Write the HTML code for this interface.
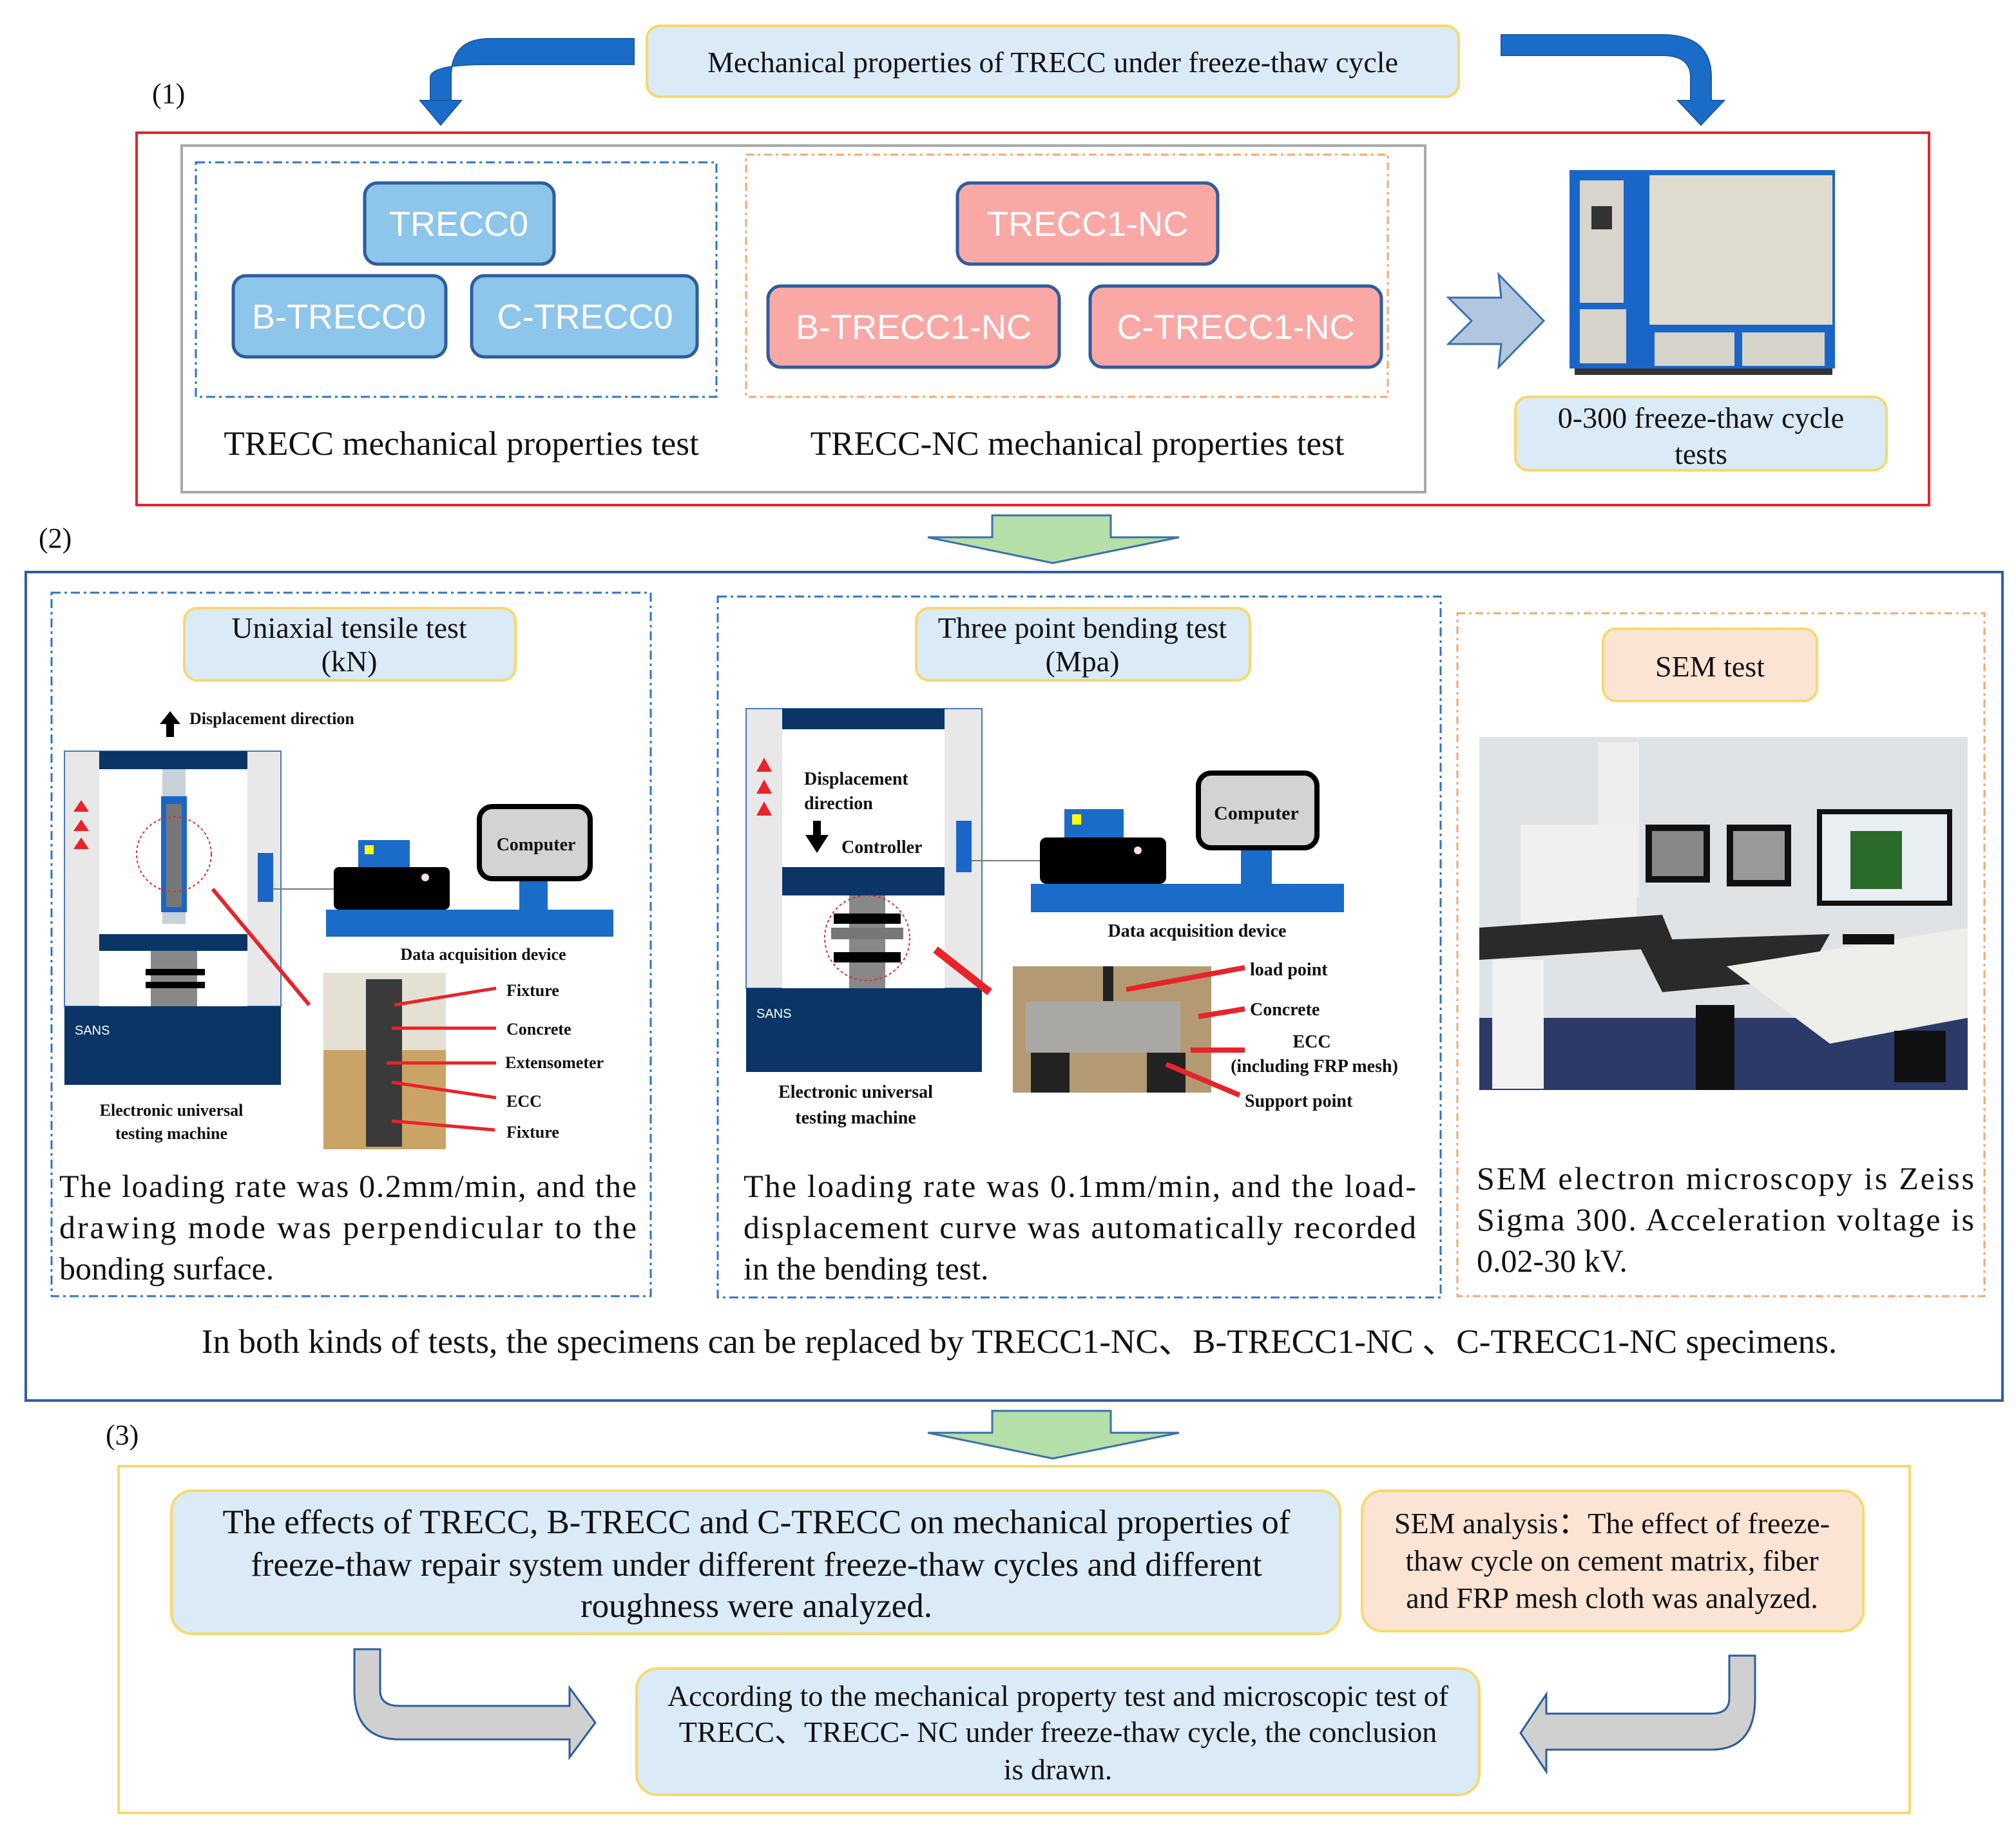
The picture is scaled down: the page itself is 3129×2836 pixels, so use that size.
<!DOCTYPE html>
<html><head><meta charset="utf-8"><style>
html,body{margin:0;padding:0;background:#fff}
svg{display:block}
text{font-family:"Liberation Serif",serif;fill:#111}
.s{font-family:"Liberation Sans",sans-serif}
.b{font-weight:bold}
</style></head><body>
<svg width="3129" height="2836" viewBox="0 0 1564.5 1418" xmlns="http://www.w3.org/2000/svg">
<rect width="1564.5" height="1418" fill="#fff"/>
<rect x="502" y="20" width="630" height="55" rx="10" fill="#dbeaf7" stroke="#f7d96a" stroke-width="2"/>
<text x="817" y="56" font-size="23" text-anchor="middle">Mechanical  properties  of TRECC under freeze-thaw  cycle</text>
<path d="M492,30 L380,30 Q350,30 350,60 L350,78 L326,78 L342,97 L358,78 L334,78 L334,60 Q334,50 380,50 L492,50 Z" fill="#1a6cc8" stroke="#1a5aa8" stroke-width="1"/>
<path d="M1165,27 L1290,27 Q1328,27 1328,60 L1328,78 L1338,78 L1320,97 L1302,78 L1312,78 L1312,60 Q1312,43 1290,43 L1165,43 Z" fill="#1a6cc8" stroke="#1a5aa8" stroke-width="1"/>
<text x="118" y="80" font-size="22">(1)</text>
<rect x="106" y="103" width="1391" height="289" fill="none" stroke="#e8232a" stroke-width="2"/>
<rect x="141" y="113" width="965" height="269" fill="none" stroke="#a8a8a8" stroke-width="2"/>
<rect x="152" y="126" width="404" height="182" fill="none" stroke="#2f73c8" stroke-width="1.5" stroke-dasharray="7,3,2,3"/>
<rect x="579" y="120" width="498" height="188" fill="none" stroke="#f4a66e" stroke-width="1.5" stroke-dasharray="6,3,2,3"/>
<g stroke="#2e5c9e" stroke-width="2.5">
<rect x="283" y="142" width="147" height="63" rx="10" fill="#8ec5ea"/>
<rect x="181" y="214" width="165" height="63" rx="10" fill="#8ec5ea"/>
<rect x="366" y="214" width="175" height="63" rx="10" fill="#8ec5ea"/>
<rect x="743" y="142" width="202" height="63" rx="10" fill="#f9a8a6"/>
<rect x="596" y="222" width="226" height="63" rx="10" fill="#f9a8a6"/>
<rect x="846" y="222" width="226" height="63" rx="10" fill="#f9a8a6"/>
</g>
<g font-size="27" text-anchor="middle">
<text x="356" y="183" class="s" style="fill:#fff">TRECC0</text>
<text x="263" y="255" class="s" style="fill:#fff">B-TRECC0</text>
<text x="454" y="255" class="s" style="fill:#fff">C-TRECC0</text>
<text x="844" y="183" class="s" style="fill:#fff">TRECC1-NC</text>
<text x="709" y="263" class="s" style="fill:#fff">B-TRECC1-NC</text>
<text x="959" y="263" class="s" style="fill:#fff">C-TRECC1-NC</text>
</g>
<text x="358" y="353" font-size="26.5" text-anchor="middle">TRECC mechanical  properties  test</text>
<text x="836" y="353" font-size="26.5" text-anchor="middle">TRECC-NC mechanical  properties  test</text>
<path d="M1124,231 L1165,231 L1163,213 L1198,249 L1163,285 L1165,267 L1124,267 L1142,249 Z" fill="#b3c6df" stroke="#3a6fb0" stroke-width="1.5"/>
<rect x="1218" y="132" width="206" height="154" fill="#1a66c8"/>
<rect x="1226" y="140" width="34" height="95" fill="#d8d6cc"/>
<rect x="1235" y="160" width="16" height="18" fill="#333"/>
<rect x="1280" y="136" width="142" height="116" fill="#e0dcd0"/>
<rect x="1226" y="240" width="36" height="42" fill="#d5d3ca"/>
<rect x="1284" y="258" width="62" height="26" fill="#d5d3ca"/>
<rect x="1352" y="258" width="64" height="26" fill="#d5d3ca"/>
<rect x="1222" y="286" width="200" height="5" fill="#333"/>
<rect x="1176" y="308" width="288" height="57" rx="10" fill="#dbeaf7" stroke="#f7d96a" stroke-width="2"/>
<text x="1320" y="332" font-size="23" text-anchor="middle">0-300 freeze-thaw  cycle</text>
<text x="1320" y="360" font-size="23" text-anchor="middle">tests</text>
<path d="M770,400 L862,400 L862,417 L915,417 L817,437 L720,417 L770,417 Z" fill="#b5dfa8" stroke="#3a6fb0" stroke-width="1.5"/>
<path d="M770,1095 L862,1095 L862,1112 L915,1112 L817,1132 L720,1112 L770,1112 Z" fill="#b5dfa8" stroke="#3a6fb0" stroke-width="1.5"/>
<text x="30" y="425" font-size="22">(2)</text>
<rect x="20" y="444" width="1534" height="643" fill="none" stroke="#2e5fa8" stroke-width="2"/>
<rect x="40" y="460" width="465" height="546" fill="none" stroke="#2f73c8" stroke-width="1.5" stroke-dasharray="7,3,2,3"/>
<rect x="557" y="463" width="561" height="544" fill="none" stroke="#2f73c8" stroke-width="1.5" stroke-dasharray="7,3,2,3"/>
<rect x="1131" y="476" width="409" height="530" fill="none" stroke="#f4a66e" stroke-width="1.5" stroke-dasharray="6,3,2,3"/>
<rect x="143" y="472" width="257" height="56" rx="10" fill="#dbeaf7" stroke="#f7d96a" stroke-width="2"/>
<text x="271" y="495" font-size="23" text-anchor="middle">Uniaxial  tensile test</text>
<text x="271" y="521" font-size="23" text-anchor="middle">(kN)</text>
<rect x="711" y="472" width="259" height="56" rx="10" fill="#dbeaf7" stroke="#f7d96a" stroke-width="2"/>
<text x="840" y="495" font-size="23" text-anchor="middle">Three point bending test</text>
<text x="840" y="521" font-size="23" text-anchor="middle">(Mpa)</text>
<rect x="1244" y="488" width="166" height="56" rx="10" fill="#fce4d4" stroke="#f7d96a" stroke-width="2"/>
<text x="1327" y="525" font-size="23" text-anchor="middle">SEM test</text>
<path d="M132,552 L124,562 L129,562 L129,572 L135,572 L135,562 L140,562 Z" fill="#000"/>
<text x="147" y="562" font-size="13" class="b">Displacement direction</text>
<rect x="50" y="583" width="168" height="198" fill="#e8e8e8" stroke="#4a78c0" stroke-width="1"/>
<rect x="77" y="597" width="115" height="184" fill="#fff"/>
<rect x="77" y="583" width="115" height="14" fill="#0a3566"/>
<rect x="77" y="725" width="115" height="13" fill="#0a3566"/>
<rect x="117" y="738" width="36" height="43" fill="#888"/>
<rect x="113" y="752" width="46" height="5" fill="#000"/><rect x="113" y="762" width="46" height="5" fill="#000"/>
<rect x="126" y="597" width="18" height="120" fill="#c8d0d8"/>
<rect x="125" y="618" width="20" height="90" fill="#1a66c8"/>
<rect x="129" y="624" width="12" height="80" fill="#777"/>
<circle cx="135" cy="663" r="29" fill="none" stroke="#e8232a" stroke-dasharray="2,2"/>
<rect x="50" y="781" width="168" height="61" fill="#0a3566"/>
<text x="58" y="803" font-size="10" class="s" style="fill:#fff">SANS</text>
<g fill="#e8232a"><path d="M63,621 L57,630 L69,630Z"/><path d="M63,636 L57,645 L69,645Z"/><path d="M63,650 L57,659 L69,659Z"/></g>
<rect x="200" y="662" width="12" height="38" fill="#1a66c8"/>
<line x1="212" y1="690" x2="259" y2="690" stroke="#777"/>
<line x1="165" y1="690" x2="240" y2="780" stroke="#e8232a" stroke-width="3"/>
<rect x="253" y="706" width="223" height="21" fill="#1a6cc8"/>
<rect x="278" y="652" width="40" height="21" fill="#1a6cc8"/><rect x="283" y="656" width="7" height="7" fill="#ff0"/>
<rect x="259" y="673" width="90" height="33" rx="4" fill="#000"/><circle cx="330" cy="681" r="3" fill="#fde"/>
<rect x="403" y="683" width="22" height="23" fill="#1a6cc8"/>
<rect x="372" y="626" width="86" height="56" rx="10" fill="#d3d3d3" stroke="#000" stroke-width="4"/>
<text x="416" y="660" font-size="14" text-anchor="middle" class="b">Computer</text>
<text x="375" y="745" font-size="13" text-anchor="middle" class="b">Data acquisition device</text>
<rect x="251" y="755" width="95" height="137" fill="#c9a466"/>
<rect x="251" y="755" width="95" height="60" fill="#e4e0d4"/>
<rect x="284" y="760" width="28" height="130" fill="#3a3a3a"/>
<g stroke="#e8232a" stroke-width="2.5">
<line x1="306" y1="780" x2="385" y2="767"/><line x1="304" y1="798" x2="385" y2="798"/><line x1="300" y1="825" x2="385" y2="825"/><line x1="304" y1="840" x2="385" y2="852"/><line x1="304" y1="870" x2="384" y2="877"/>
</g>
<g font-size="13" class="b">
<text x="393" y="773">Fixture</text><text x="393" y="803">Concrete</text><text x="392" y="829">Extensometer</text><text x="393" y="859">ECC</text><text x="393" y="883">Fixture</text>
</g>
<text x="133" y="866" font-size="13" text-anchor="middle" class="b">Electronic universal</text>
<text x="133" y="884" font-size="13" text-anchor="middle" class="b">testing machine</text>
<g font-size="25">
<text x="46" y="929" textLength="448" lengthAdjust="spacing">The loading rate was 0.2mm/min, and the</text>
<text x="46" y="961" textLength="448" lengthAdjust="spacing">drawing mode was perpendicular to the</text>
<text x="46" y="993">bonding  surface.</text>
</g>
<rect x="579" y="550" width="183" height="217" fill="#e8e8e8" stroke="#4a78c0" stroke-width="1"/>
<rect x="607" y="566" width="126" height="201" fill="#fff"/>
<rect x="607" y="550" width="126" height="16" fill="#0a3566"/>
<rect x="607" y="673" width="126" height="22" fill="#0a3566"/>
<rect x="659" y="695" width="28" height="72" fill="#888"/>
<rect x="647" y="709" width="52" height="8" fill="#000"/><rect x="645" y="720" width="56" height="9" fill="#777"/><rect x="647" y="739" width="52" height="8" fill="#000"/>
<circle cx="673" cy="728" r="33" fill="none" stroke="#e8232a" stroke-dasharray="2,2"/>
<rect x="579" y="767" width="183" height="65" fill="#0a3566"/>
<text x="587" y="790" font-size="10" class="s" style="fill:#fff">SANS</text>
<g fill="#e8232a"><path d="M593,588 L587,599 L599,599Z"/><path d="M593,605 L587,616 L599,616Z"/><path d="M593,622 L587,633 L599,633Z"/></g>
<text x="624" y="609" font-size="14" class="b">Displacement</text>
<text x="624" y="628" font-size="14" class="b">direction</text>
<path d="M634,662 L625,648 L631,648 L631,637 L637,637 L637,648 L643,648 Z" fill="#000"/>
<text x="653" y="662" font-size="14" class="b">Controller</text>
<rect x="742" y="637" width="12" height="40" fill="#1a66c8"/>
<line x1="754" y1="668" x2="807" y2="668" stroke="#777"/>
<line x1="726" y1="737" x2="768" y2="770" stroke="#e8232a" stroke-width="6"/>
<rect x="800" y="686" width="243" height="22" fill="#1a6cc8"/>
<rect x="826" y="628" width="46" height="22" fill="#1a6cc8"/><rect x="832" y="632" width="7" height="8" fill="#ff0"/>
<rect x="807" y="650" width="98" height="36" rx="5" fill="#000"/><circle cx="883" cy="660" r="3" fill="#fde"/>
<rect x="963" y="660" width="24" height="26" fill="#1a6cc8"/>
<rect x="930" y="600" width="92" height="58" rx="10" fill="#d3d3d3" stroke="#000" stroke-width="4"/>
<text x="975" y="636" font-size="15" text-anchor="middle" class="b">Computer</text>
<text x="929" y="727" font-size="14" text-anchor="middle" class="b">Data acquisition device</text>
<rect x="786" y="750" width="154" height="98" fill="#b49a72"/>
<rect x="796" y="777" width="120" height="40" fill="#a9a8a4"/>
<rect x="800" y="817" width="30" height="31" fill="#222"/><rect x="890" y="817" width="30" height="31" fill="#222"/>
<rect x="856" y="750" width="8" height="27" fill="#222"/>
<g stroke="#e8232a" stroke-width="4">
<line x1="874" y1="768" x2="966" y2="751"/><line x1="930" y1="789" x2="966" y2="783"/><line x1="924" y1="815" x2="966" y2="815"/><line x1="905" y1="826" x2="962" y2="850"/>
</g>
<g font-size="14" class="b">
<text x="970" y="757">load point</text><text x="970" y="788">Concrete</text><text x="1018" y="813" text-anchor="middle">ECC</text><text x="1020" y="832" text-anchor="middle">(including FRP mesh)</text><text x="966" y="859">Support point</text>
</g>
<text x="664" y="852" font-size="14" text-anchor="middle" class="b">Electronic universal</text>
<text x="664" y="872" font-size="14" text-anchor="middle" class="b">testing machine</text>
<g font-size="25">
<text x="577" y="929" textLength="522" lengthAdjust="spacing">The loading rate was 0.1mm/min, and the load-</text>
<text x="577" y="961" textLength="522" lengthAdjust="spacing">displacement curve was automatically recorded</text>
<text x="577" y="993">in the bending test.</text>
</g>
<rect x="1148" y="572" width="379" height="274" fill="#dfe3e6"/>
<rect x="1148" y="790" width="379" height="56" fill="#2b3a66"/>
<rect x="1240" y="576" width="32" height="120" fill="#eee"/>
<rect x="1180" y="640" width="90" height="80" fill="#f0f0f0"/>
<path d="M1148,720 L1290,710 L1300,735 L1148,745Z" fill="#2a2a2a"/>
<rect x="1158" y="745" width="40" height="100" fill="#f2f2f2"/>
<path d="M1270,730 L1420,725 L1400,760 L1290,770Z" fill="#2a2a2a"/>
<path d="M1340,750 L1527,720 L1527,790 L1420,810Z" fill="#eeeeea"/>
<rect x="1316" y="780" width="30" height="66" fill="#111"/>
<rect x="1277" y="640" width="50" height="45" fill="#111"/><rect x="1282" y="645" width="40" height="35" fill="#888"/>
<rect x="1340" y="640" width="50" height="48" fill="#111"/><rect x="1345" y="645" width="40" height="38" fill="#999"/>
<rect x="1410" y="628" width="105" height="75" fill="#111"/><rect x="1414" y="632" width="97" height="67" fill="#e8eef2"/>
<rect x="1436" y="645" width="40" height="45" fill="#2a6a2a"/>
<rect x="1430" y="725" width="40" height="8" fill="#111"/>
<rect x="1470" y="800" width="40" height="40" fill="#111"/>
<g font-size="25">
<text x="1146" y="923" textLength="386" lengthAdjust="spacing">SEM electron microscopy  is Zeiss</text>
<text x="1146" y="955" textLength="386" lengthAdjust="spacing">Sigma 300. Acceleration voltage is</text>
<text x="1146" y="987">0.02-30 kV.</text>
</g>
<text x="791" y="1050" font-size="26.6" text-anchor="middle">In both kinds of tests, the specimens can be replaced by TRECC1-NC、B-TRECC1-NC 、C-TRECC1-NC specimens.</text>
<text x="82" y="1121" font-size="22">(3)</text>
<rect x="92" y="1138" width="1390" height="269" fill="none" stroke="#f7d96a" stroke-width="2"/>
<rect x="133" y="1157" width="907" height="111" rx="16" fill="#dbeaf7" stroke="#f7d96a" stroke-width="2"/>
<g font-size="26.5" text-anchor="middle">
<text x="587" y="1190">The effects of TRECC, B-TRECC and C-TRECC on mechanical properties of</text>
<text x="587" y="1223">freeze-thaw repair system under different freeze-thaw cycles and different</text>
<text x="587" y="1255">roughness were analyzed.</text>
</g>
<rect x="1057" y="1157" width="389" height="109" rx="16" fill="#fce4d4" stroke="#f7d96a" stroke-width="2"/>
<g font-size="23" text-anchor="middle">
<text x="1251" y="1190">SEM analysis：The effect of freeze-</text>
<text x="1251" y="1219">thaw cycle on cement matrix, fiber</text>
<text x="1251" y="1248">and FRP mesh cloth was analyzed.</text>
</g>
<rect x="494" y="1295" width="654" height="98" rx="16" fill="#dbeaf7" stroke="#f7d96a" stroke-width="2"/>
<g font-size="23" text-anchor="middle">
<text x="821" y="1324">According to the mechanical  property test and microscopic test of</text>
<text x="821" y="1352">TRECC、TRECC- NC under freeze-thaw cycle, the conclusion</text>
<text x="821" y="1381">is drawn.</text>
</g>
<path d="M275,1280 L295,1280 L295,1312 Q295,1324 310,1324 L442,1324 L442,1310 L462,1337 L442,1364 L442,1350 L310,1350 Q275,1350 275,1312 Z" fill="#d0d0d0" stroke="#2e5c9e" stroke-width="1.5"/>
<path d="M1362,1285 L1342,1285 L1342,1318 Q1342,1330 1328,1330 L1200,1330 L1200,1315 L1180,1345 L1200,1375 L1200,1358 L1328,1358 Q1362,1358 1362,1318 Z" fill="#d0d0d0" stroke="#2e5c9e" stroke-width="1.5"/>
</svg>
</body></html>
